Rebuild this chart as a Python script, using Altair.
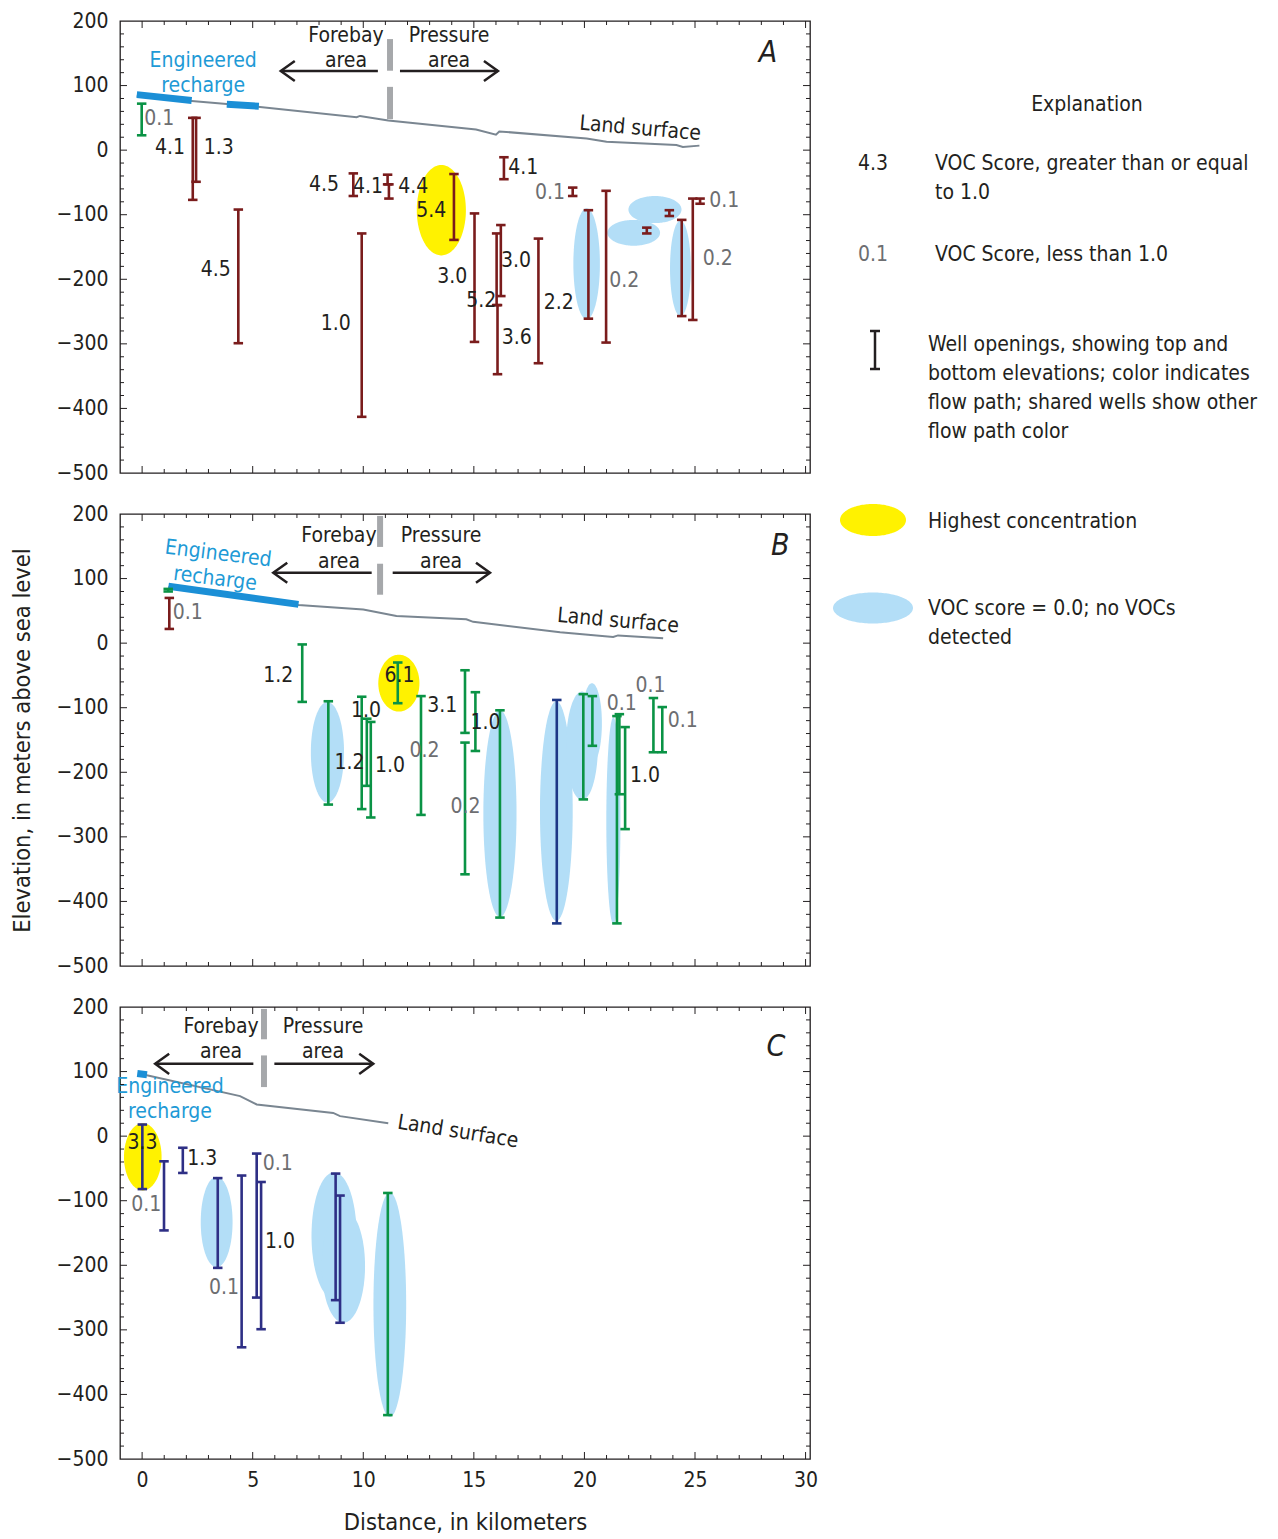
import altair as alt
import numpy as np
import pandas as pd

FONT = "Liberation Sans Narrow, Arial Narrow, DejaVu Sans Condensed, sans-serif"
INK = "#231F20"
GRAY_TXT = "#6D6E71"
PATH_COLORS = {"red": "#7A1C1C", "green": "#0A9345", "navy": "#2E2F85", "navyB": "#1D3786"}
BLUE_FILL = "#B3DEF7"
YELLOW = "#FFF200"
RECHARGE = "#1B8FD6"
RECHARGE_TXT = "#1E9AD6"
LAND = "#7A8691"
DIVIDER = "#A6A8AB"

W, H = 690, 452
X_DOM = [-1.0, 30.2]
Y_DOM = [-500, 200]

# ---------------- Section A ----------------
A_well_km = [-0.02, 2.29, 2.44, 4.35, 9.55, 11.10, 11.16, 9.93, 14.10, 15.03, 16.03, 16.07,
             16.22, 16.36, 17.92, 19.47, 20.18, 20.98, 22.82, 23.84, 24.40, 24.90, 25.23]
A_well_top = [72, 50, 50, -92, -36, -38, -53, -129, -37, -98, -129, -240,
              -116, -11, -137, -58, -93, -63, -120, -93, -108, -75, -75]
A_well_bot = [23, -77, -49, -299, -71, -53, -75, -413, -139, -297, -240, -347,
              -226, -45, -330, -71, -261, -298, -129, -102, -257, -263, -83]
A_well_path = ["green"] + ["red"] * 22

A_lab_km = [0.05, 1.99, 2.74, 4.05, 8.95, 10.94, 11.54, 13.80, 16.51, 19.17, 21.08, 25.60,
            25.30, 14.75, 16.18, 16.06, 16.22, 18.11, 9.48]
A_lab_elev = [48, 4, 4, -185, -54, -57, -57, -94, -27, -67, -203, -79,
              -168, -197, -172, -234, -291, -236, -269]
A_lab_text = ["0.1", "4.1", "1.3", "4.5", "4.5", "4.1", "4.4", "5.4", "4.1", "0.1", "0.2", "0.1",
              "0.2", "3.0", "3.0", "5.2", "3.6", "2.2", "1.0"]
A_lab_side = ["R", "L", "R", "L", "L", "L", "R", "L", "R", "L", "R", "R",
              "R", "L", "R", "L", "R", "R", "L"]

A_ell_cx = [13.53, 20.10, 22.23, 23.19, 24.34]
A_ell_cy = [-93, -176, -128, -92, -183]
A_ell_rx = [1.11, 0.60, 1.19, 1.20, 0.47]
A_ell_ry = [70, 86, 20, 21, 74]
A_ell_kind = ["max", "none", "none", "none", "none"]

A_land_km = [-0.24, 2.24, 5.33, 9.70, 9.85, 11.13, 15.10, 16.00, 16.15, 20.10, 21.00, 24.16, 24.45, 25.20]
A_land_elev = [84, 76, 67, 51, 53, 46, 32, 24, 29, 18, 13, 8, 5, 7]
A_recharge = [(-0.24, 86, 2.24, 77), (3.83, 71, 5.28, 68)]

# ---------------- Section B ----------------
B_well_km = [1.23, 1.18, 7.24, 8.42, 9.93, 10.16, 10.34, 11.56, 12.61, 14.60, 14.60, 15.07,
             16.18, 18.75, 19.95, 20.36, 21.47, 21.58, 21.84, 23.12, 23.52]
B_well_top = [70, 84, -2, -90, -83, -117, -122, -30, -82, -42, -154, -76,
              -104, -88, -79, -82, -113, -110, -130, -85, -99]
B_well_bot = [22, 80, -91, -250, -257, -221, -270, -93, -266, -139, -358, -167,
              -425, -434, -242, -159, -434, -234, -288, -169, -169]
B_well_path = ["red", "green", "green", "green", "green", "green", "green", "green", "green",
               "green", "green", "green", "green", "navyB", "green", "green", "green", "green",
               "green", "green", "green"]

B_lab_km = [1.34, 6.88, 11.64, 10.12, 8.65, 10.49, 12.77, 14.30, 14.62, 14.80, 21.69, 22.02, 22.99, 23.72]
B_lab_elev = [47, -51, -51, -105, -185, -190, -167, -97, -254, -123, -95, -206, -66, -121]
B_lab_text = ["0.1", "1.2", "6.1", "1.0", "1.2", "1.0", "0.2", "3.1", "0.2", "1.0", "0.1", "1.0", "0.1", "0.1"]
B_lab_side = ["R", "L", "C", "C", "R", "R", "C", "L", "C", "R", "C", "R", "C", "R"]

B_ell_cx = [11.61, 8.38, 16.18, 18.73, 19.89, 20.34, 21.31]
B_ell_cy = [-62, -169, -264, -260, -159, -124, -275]
B_ell_rx = [0.93, 0.75, 0.75, 0.74, 0.72, 0.45, 0.32]
B_ell_ry = [44, 78, 160, 170, 84, 62, 160]
B_ell_kind = ["max", "none", "none", "none", "none", "none", "none"]

B_land_km = [1.19, 7.07, 10.00, 11.50, 14.66, 14.97, 18.90, 21.30, 21.52, 23.56]
B_land_elev = [87, 59, 52, 42, 37, 33, 17, 9.5, 12, 7.5]
B_recharge = [(1.19, 88, 7.07, 60)]

# ---------------- Section C ----------------
C_well_km = [0.01, 0.99, 1.84, 3.42, 4.50, 5.18, 5.38, 8.75, 8.95, 11.11]
C_well_top = [18, -39, -18, -65, -61, -27, -71, -58, -92, -88]
C_well_bot = [-82, -146, -57, -204, -327, -250, -299, -254, -289, -432]
C_well_path = ["navy"] * 9 + ["green"]

C_lab_km = [0.02, 0.91, 1.99, 4.43, 5.41, 5.51]
C_lab_elev = [-11, -106, -35, -235, -43, -164]
C_lab_text = ["3.3", "0.1", "1.3", "0.1", "0.1", "1.0"]
C_lab_side = ["C", "L", "R", "L", "R", "R"]

C_ell_cx = [0.03, 3.37, 8.68, 9.10, 11.20]
C_ell_cy = [-32, -133, -154, -201, -261]
C_ell_rx = [0.85, 0.72, 1.02, 0.98, 0.74]
C_ell_ry = [52, 70, 98, 88, 174]
C_ell_kind = ["max", "none", "none", "none", "none"]

C_land_km = [0.01, 4.43, 5.18, 8.64, 8.95, 11.13]
C_land_elev = [96, 62, 49, 36, 31, 20]
C_recharge = [(-0.22, 97, 0.22, 95)]

# ---------------- Annotations (forebay / pressure areas, captions) ----------------
NOTES = {
    "A": dict(
        divider_km=11.21, divider_segs=[(172, 123), (98, 48)],
        arrow_elev=122.6, arrow_left=(10.66, 6.27), arrow_right=(11.66, 16.09),
        area_text=[(9.22, 176.8, "Forebay"), (9.22, 138, "area"),
                   (13.88, 176.8, "Pressure"), (13.88, 138, "area")],
        rech_text=[(2.76, 138, "Engineered", 0), (2.76, 99.3, "recharge", 0)],
        land_text=(22.52, 33, 5), letter=(28.3, 150, "A"),
    ),
    "B": dict(
        divider_km=10.76, divider_segs=[(197, 149), (123, 75)],
        arrow_elev=109, arrow_left=(10.38, 5.93), arrow_right=(11.33, 15.73),
        area_text=[(8.9, 166, "Forebay"), (8.9, 125.7, "area"),
                   (13.52, 166, "Pressure"), (13.52, 125.7, "area")],
        rech_text=[(3.44, 138, "Engineered", 7), (3.30, 99.3, "recharge", 7)],
        land_text=(21.52, 34, 5), letter=(28.85, 150, "B"),
    ),
    "C": dict(
        divider_km=5.51, divider_segs=[(197, 150), (125, 76)],
        arrow_elev=112, arrow_left=(5.03, 0.59), arrow_right=(5.98, 10.45),
        area_text=[(3.57, 169, "Forebay"), (3.57, 130.3, "area"),
                   (8.18, 169, "Pressure"), (8.18, 130.3, "area")],
        rech_text=[(1.26, 76, "Engineered", 0), (1.26, 37.4, "recharge", 0)],
        land_text=(14.28, 6.4, 9), letter=(28.66, 138, "C"),
    ),
}

xscale = alt.Scale(domain=X_DOM, nice=False, zero=False)
yscale = alt.Scale(domain=Y_DOM, nice=False, zero=False)


def x_enc(show_axis):
    if show_axis:
        axis = alt.Axis(values=list(range(0, 31, 5)), ticks=False, domain=False, grid=False,
                        labelFontSize=21, labelPadding=10, labelFlush=False, labelOverlap=False,
                        title="Distance, in kilometers", titleFontSize=23.5, titlePadding=20)
    else:
        axis = None
    return alt.X("x:Q", scale=xscale, axis=axis)


def y_enc(title_opacity):
    axis = alt.Axis(values=list(range(-500, 201, 100)), ticks=False, domain=False, grid=False,
                    labelFontSize=21, labelPadding=12, labelFlush=False, labelOverlap=False,
                    title="Elevation, in meters above sea level", titleFontSize=23.5,
                    titleX=-98, titleY=H / 2, titleAngle=270, titleAlign="center",
                    titleBaseline="middle", titleOpacity=title_opacity)
    return alt.Y("y:Q", scale=yscale, axis=axis)


def ellipse_table(cx, cy, rx, ry, kind, n=72):
    t = np.linspace(0, np.pi, n)
    rows = []
    for i, (a, b, c, d, k) in enumerate(zip(cx, cy, rx, ry, kind)):
        for xv, hv in zip(a - c * np.cos(t), d * np.sin(t)):
            rows.append(dict(x=xv, y=b + hv, y2=b - hv, eid=i,
                             fill=YELLOW if k == "max" else BLUE_FILL))
    return pd.DataFrame(rows)


def panel(key, wells, labels, ells, land, recharge, show_x, title_opacity, extra=()):
    X = x_enc(show_x)
    Y = y_enc(title_opacity)
    n = NOTES[key]
    layers = []

    # shaded ovals (highest concentration / no VOCs detected)
    layers.append(alt.Chart(ellipse_table(*ells)).mark_area(orient="vertical", opacity=1).encode(
        x=X, y=Y, y2="y2:Q", detail="eid:N", fill=alt.Fill("fill:N", scale=None)))

    # land surface
    km, el = land
    layers.append(alt.Chart(pd.DataFrame({"x": km, "y": el})).mark_line(
        color=LAND, strokeWidth=2).encode(x=X, y=Y))

    # engineered recharge reaches
    rows = []
    for s, (x0, y0, x1, y1) in enumerate(recharge):
        rows += [dict(x=x0, y=y0, seg=s), dict(x=x1, y=y1, seg=s)]
    layers.append(alt.Chart(pd.DataFrame(rows)).mark_line(
        color=RECHARGE, strokeWidth=7, strokeCap="butt").encode(x=X, y=Y, detail="seg:N"))

    # forebay / pressure divider and arrows
    ddf = pd.DataFrame([dict(x=n["divider_km"], y=a, y2=b) for a, b in n["divider_segs"]])
    layers.append(alt.Chart(ddf).mark_rule(color=DIVIDER, strokeWidth=6).encode(x=X, y=Y, y2="y2:Q"))
    adf = pd.DataFrame([dict(x=n["arrow_left"][0], x2=n["arrow_left"][1], y=n["arrow_elev"]),
                        dict(x=n["arrow_right"][0], x2=n["arrow_right"][1], y=n["arrow_elev"])])
    layers.append(alt.Chart(adf).mark_rule(color=INK, strokeWidth=2.5).encode(x=X, x2="x2:Q", y=Y))
    layers.append(alt.Chart(pd.DataFrame({"x": [n["arrow_left"][1]], "y": [n["arrow_elev"]]})).mark_point(
        shape="M1,-0.72L0,0L1,0.72", size=784, filled=False, strokeWidth=2.5, color=INK, opacity=1,
        strokeJoin="miter").encode(x=X, y=Y))
    layers.append(alt.Chart(pd.DataFrame({"x": [n["arrow_right"][1]], "y": [n["arrow_elev"]]})).mark_point(
        shape="M-1,-0.72L0,0L-1,0.72", size=784, filled=False, strokeWidth=2.5, color=INK, opacity=1,
        strokeJoin="miter").encode(x=X, y=Y))

    # well openings
    wkm, wtop, wbot, wpath = wells
    wdf = pd.DataFrame({"x": wkm, "y": wtop, "y2": wbot,
                        "c": [PATH_COLORS[p] for p in wpath]})
    layers.append(alt.Chart(wdf).mark_rule(strokeWidth=2.6).encode(
        x=X, y=Y, y2="y2:Q", color=alt.Color("c:N", scale=None)))
    cdf = pd.concat([wdf[["x", "y", "c"]], wdf[["x", "y2", "c"]].rename(columns={"y2": "y"})])
    layers.append(alt.Chart(cdf).mark_point(shape="stroke", size=90, filled=False, strokeWidth=2.6,
                                            opacity=1).encode(
        x=X, y=Y, color=alt.Color("c:N", scale=None)))

    # VOC score labels
    lkm, lel, ltx, lsd = labels
    ldf = pd.DataFrame({"x": lkm, "y": lel, "t": ltx, "side": lsd,
                        "c": [INK if float(v) >= 1.0 else GRAY_TXT for v in ltx]})
    for side, align, dx in (("R", "left", 1), ("L", "right", -1), ("C", "center", 0)):
        sub = ldf[ldf.side == side]
        if len(sub):
            layers.append(alt.Chart(sub).mark_text(align=align, baseline="middle", dx=dx,
                                                   font=FONT, fontSize=21).encode(
                x=X, y=Y, text="t:N", color=alt.Color("c:N", scale=None)))

    # captions
    tdf = pd.DataFrame([dict(x=a, y=b, t=c) for a, b, c in n["area_text"]])
    layers.append(alt.Chart(tdf).mark_text(font=FONT, fontSize=21, color=INK, baseline="middle").encode(
        x=X, y=Y, text="t:N"))
    rdf = pd.DataFrame([dict(x=a, y=b, t=c, ang=d) for a, b, c, d in n["rech_text"]])
    layers.append(alt.Chart(rdf).mark_text(font=FONT, fontSize=21, color=RECHARGE_TXT,
                                           baseline="middle").encode(
        x=X, y=Y, text="t:N", angle=alt.Angle("ang:Q", scale=None)))
    lx, ly, la = n["land_text"]
    layers.append(alt.Chart(pd.DataFrame({"x": [lx], "y": [ly], "t": ["Land surface"], "ang": [la]})).mark_text(
        font=FONT, fontSize=21, color=INK, baseline="middle").encode(
        x=X, y=Y, text="t:N", angle=alt.Angle("ang:Q", scale=None)))
    gx, gy, gt = n["letter"]
    layers.append(alt.Chart(pd.DataFrame({"x": [gx], "y": [gy], "t": [gt]})).mark_text(
        font=FONT, fontSize=30, fontStyle="italic", color=INK, baseline="middle").encode(
        x=X, y=Y, text="t:N"))

    # inward tick marks on all four sides of the frame
    ymin = pd.DataFrame({"y": [v for v in range(-480, 200, 20) if v % 100]})
    ymaj = pd.DataFrame({"y": list(range(-400, 200, 100))})
    xmin = pd.DataFrame({"x": [v for v in range(0, 31) if v % 5]})
    xmaj = pd.DataFrame({"x": list(range(0, 31, 5))})
    for df, L in ((ymin, 4), (ymaj, 7)):
        layers.append(alt.Chart(df).mark_rule(color=INK, strokeWidth=1).encode(
            y=Y, x=alt.value(0), x2=alt.value(L)))
        layers.append(alt.Chart(df).mark_rule(color=INK, strokeWidth=1).encode(
            y=Y, x=alt.value(W - L), x2=alt.value(W)))
    for df, L in ((xmin, 4), (xmaj, 7)):
        layers.append(alt.Chart(df).mark_rule(color=INK, strokeWidth=1).encode(
            x=X, y=alt.value(0), y2=alt.value(L)))
        layers.append(alt.Chart(df).mark_rule(color=INK, strokeWidth=1).encode(
            x=X, y=alt.value(H - L), y2=alt.value(H)))

    layers.extend(extra)
    return alt.layer(*layers).properties(width=W, height=H)


# ---------------- Explanation (placed beside sections A and B) ----------------
PX = alt.X("px:Q", scale=None, axis=None)
PY = alt.Y("py:Q", scale=None, axis=None)

expl_text = ["4.3", "VOC Score, greater than or equal", "to 1.0", "0.1", "VOC Score, less than 1.0",
             "Well openings, showing top and", "bottom elevations; color indicates",
             "flow path; shared wells show other", "flow path color"]
expl_px = [738, 815, 815, 738, 815, 808, 808, 808, 808]
expl_py = [143, 143, 172, 234, 234, 324, 353, 382, 411]
expl_col = [INK, INK, INK, GRAY_TXT, INK, INK, INK, INK, INK]

legend_A = [
    alt.Chart(pd.DataFrame({"px": [967], "py": [84], "t": ["Explanation"]})).mark_text(
        font=FONT, fontSize=21, color=INK, align="center", baseline="middle").encode(x=PX, y=PY, text="t:N"),
    alt.Chart(pd.DataFrame({"px": expl_px, "py": expl_py, "t": expl_text, "c": expl_col})).mark_text(
        font=FONT, fontSize=21, align="left", baseline="middle").encode(
        x=PX, y=PY, text="t:N", color=alt.Color("c:N", scale=None)),
    alt.Chart(pd.DataFrame({"px": [755], "py": [310], "py2": [348]})).mark_rule(
        color=INK, strokeWidth=2.5).encode(x=PX, y=PY, y2="py2:Q"),
    alt.Chart(pd.DataFrame({"px": [750, 750], "px2": [760, 760], "py": [310, 348]})).mark_rule(
        color=INK, strokeWidth=2.5).encode(x=PX, x2="px2:Q", y=PY),
]


def pixel_oval(cx, cy, rx, ry, fill, n=72):
    t = np.linspace(0, np.pi, n)
    return pd.DataFrame({"px": cx - rx * np.cos(t), "py": cy - ry * np.sin(t),
                         "py2": cy + ry * np.sin(t), "f": fill})


legend_B = [
    alt.Chart(pd.concat([pixel_oval(753, 6, 33, 16, YELLOW).assign(k=0),
                         pixel_oval(753, 94, 40, 15.5, BLUE_FILL).assign(k=1)])).mark_area(
        orient="vertical", opacity=1).encode(x=PX, y=PY, y2="py2:Q", detail="k:N",
                                             fill=alt.Fill("f:N", scale=None)),
    alt.Chart(pd.DataFrame({"px": [808, 808, 808], "py": [8, 95, 124],
                            "t": ["Highest concentration", "VOC score = 0.0; no VOCs", "detected"]})).mark_text(
        font=FONT, fontSize=21, color=INK, align="left", baseline="middle").encode(x=PX, y=PY, text="t:N"),
]

A = panel("A", (A_well_km, A_well_top, A_well_bot, A_well_path),
          (A_lab_km, A_lab_elev, A_lab_text, A_lab_side),
          (A_ell_cx, A_ell_cy, A_ell_rx, A_ell_ry, A_ell_kind),
          (A_land_km, A_land_elev), A_recharge, False, 0, legend_A)
B = panel("B", (B_well_km, B_well_top, B_well_bot, B_well_path),
          (B_lab_km, B_lab_elev, B_lab_text, B_lab_side),
          (B_ell_cx, B_ell_cy, B_ell_rx, B_ell_ry, B_ell_kind),
          (B_land_km, B_land_elev), B_recharge, False, 1, legend_B)
C = panel("C", (C_well_km, C_well_top, C_well_bot, C_well_path),
          (C_lab_km, C_lab_elev, C_lab_text, C_lab_side),
          (C_ell_cx, C_ell_cy, C_ell_rx, C_ell_ry, C_ell_kind),
          (C_land_km, C_land_elev), C_recharge, True, 0)

chart = alt.vconcat(A, B, C, spacing=41, bounds="flush").properties(
    padding={"left": 9, "top": 9, "right": 5, "bottom": 5}
).configure_view(stroke=INK, strokeWidth=1.3).configure_axis(
    labelFont=FONT, titleFont=FONT, labelColor=INK, titleColor=INK, titleFontWeight="normal"
)

chart.save("out.html", embed_options={"renderer": "svg", "actions": False})
